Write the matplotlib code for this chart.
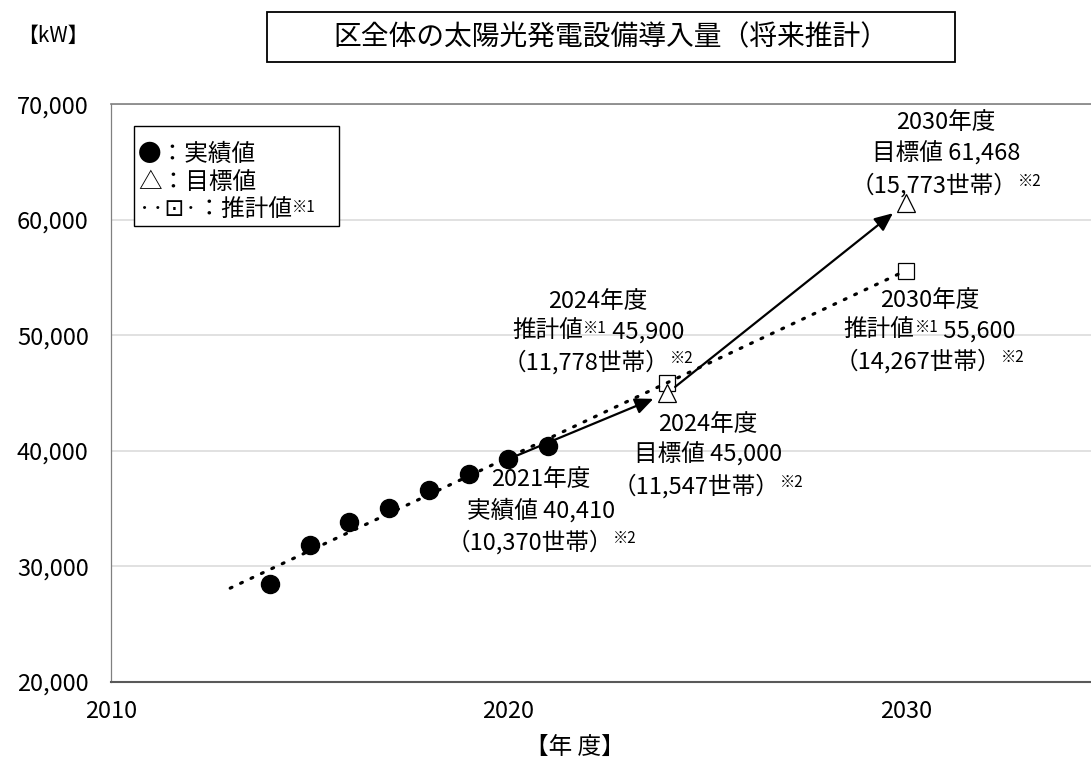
"""区全体の太陽光発電設備導入量（将来推計） — actual, target and estimated capacity."""

import matplotlib
matplotlib.use("Agg")
import matplotlib.pyplot as plt
from matplotlib.patches import Rectangle
from matplotlib.ticker import FuncFormatter
from matplotlib.offsetbox import (TextArea, HPacker, VPacker, AnnotationBbox,
                                  AnchoredOffsetbox, DrawingArea)

plt.rcParams["font.family"] = ["Noto Sans CJK JP", "DejaVu Sans"]

# ── data (kW) ──────────────────────────────────────────────────────────────
actual_years = [2014, 2015, 2016, 2017, 2018, 2019, 2020, 2021]
actual_kw = [28430, 31840, 33850, 35060, 36600, 37980, 39280, 40410]

target_years = [2024, 2030]
target_kw = [45000, 61468]

estimate_years = [2024, 2030]
estimate_kw = [45900, 55600]

trend_years = [2013, 2024, 2030]
trend_kw = [28100, 45900, 55600]

x_ticks = [2010, 2020, 2030]
y_ticks = [20000, 30000, 40000, 50000, 60000, 70000]

TITLE = "区全体の太陽光発電設備導入量（将来推計）"
BIG = 17
SUP = 11


def text_block(lines):
    """Centered multi-line label; each line is a list of (text, is_superscript)."""
    rows = []
    for segs in lines:
        parts = [TextArea(t, textprops=dict(fontsize=SUP if sup else BIG, color="black"))
                 for t, sup in segs]
        rows.append(HPacker(children=parts, align="top", pad=0, sep=0))
    return VPacker(children=rows, align="center", pad=0, sep=5)


fig = plt.figure(figsize=(10.91, 7.58), dpi=100)
fig.patch.set_facecolor("white")
ax = fig.add_axes([0.1017, 0.1007, 0.9109, 0.7617])

ax.set_xlim(2010, 2035)
ax.set_ylim(20000, 70000)
ax.set_xticks(x_ticks)
ax.set_yticks(y_ticks)
ax.yaxis.set_major_formatter(FuncFormatter(lambda v, _: f"{v:,.0f}"))
ax.tick_params(axis="both", length=0, labelsize=BIG)
ax.tick_params(axis="y", pad=16)
ax.tick_params(axis="x", pad=13)
ax.grid(axis="y", color="#d9d9d9", linewidth=1.1)
ax.set_axisbelow(True)
ax.spines["left"].set_color("#808080")
ax.spines["left"].set_linewidth(0.9)
ax.spines["bottom"].set_color("#595959")
ax.spines["bottom"].set_linewidth(1.5)
ax.spines["top"].set_color("#808080")
ax.spines["top"].set_linewidth(1.2)
ax.spines["right"].set_visible(False)

# trend (dotted) + estimate squares
ax.plot(estimate_years, estimate_kw, linestyle="none", marker="s", markersize=12,
        markerfacecolor="white", markeredgecolor="black", markeredgewidth=0.9, zorder=3)
ax.plot(trend_years, trend_kw, color="black", linewidth=2.3,
        linestyle=(0, (0.6, 3.0)), dash_capstyle="round", zorder=4)

# arrows toward the targets
ax.annotate("", xy=(target_years[0], target_kw[0]), xytext=(actual_years[-2], actual_kw[-2]),
            arrowprops=dict(arrowstyle="-|>,head_length=0.5,head_width=0.22", color="black",
                            lw=1.6, mutation_scale=22, shrinkA=0, shrinkB=11), zorder=5)
ax.annotate("", xy=(target_years[1], target_kw[1]), xytext=(target_years[0], target_kw[0]),
            arrowprops=dict(arrowstyle="-|>,head_length=0.5,head_width=0.22", color="black",
                            lw=1.6, mutation_scale=22, shrinkA=7, shrinkB=12), zorder=5)

# actual and target markers
ax.plot(actual_years, actual_kw, linestyle="none", marker="o", markersize=13,
        color="black", zorder=6)
ax.plot(target_years, target_kw, linestyle="none", marker="^", markersize=13,
        markerfacecolor="white", markeredgecolor="black", markeredgewidth=0.9, zorder=6)

# value labels
labels = [
    (actual_years[-1], actual_kw[-1], (-5, -47),
     [[("2021年度", False)], [("実績値 40,410", False)], [("（10,370世帯）", False), ("※2", True)]]),
    (estimate_years[0], estimate_kw[0], (-50, 36),
     [[("2024年度", False)], [("推計値", False), ("※1", True), (" 45,900", False)],
      [("（11,778世帯）", False), ("※2", True)]]),
    (target_years[0], target_kw[0], (29, -45),
     [[("2024年度", False)], [("目標値 45,000", False)], [("（11,547世帯）", False), ("※2", True)]]),
    (target_years[1], target_kw[1], (29, 35),
     [[("2030年度", False)], [("目標値 61,468", False)], [("（15,773世帯）", False), ("※2", True)]]),
    (estimate_years[1], estimate_kw[1], (17, -44),
     [[("2030年度", False)], [("推計値", False), ("※1", True), (" 55,600", False)],
      [("（14,267世帯）", False), ("※2", True)]]),
]
for x, y, off, lines in labels:
    ab = AnnotationBbox(text_block(lines), (x, y), xybox=off, xycoords="data",
                        boxcoords="offset points", frameon=False, box_alignment=(0.5, 0.5),
                        pad=0, zorder=7)
    ax.add_artist(ab)

# legend box (text glyphs, as in the original)
leg_rows = [
    DrawingArea(1, 5.9),
    HPacker(children=[TextArea("●：実績値", textprops=dict(fontsize=BIG))], pad=0, sep=0),
    HPacker(children=[TextArea("△：目標値", textprops=dict(fontsize=BIG))], pad=0, sep=0),
    HPacker(children=[TextArea("··⊡·：推計値", textprops=dict(fontsize=BIG)),
                      TextArea("※1", textprops=dict(fontsize=SUP)),
                      DrawingArea(14, 1)], align="top", pad=0, sep=0),
]
leg = AnchoredOffsetbox(loc="upper left", child=VPacker(children=leg_rows, align="left", pad=0, sep=3.5),
                        pad=0.28, borderpad=0, frameon=True,
                        bbox_to_anchor=(134 / 1091, 1 - 126 / 758), bbox_transform=fig.transFigure)
leg.patch.set_boxstyle("square,pad=0")
leg.patch.set_edgecolor("black")
leg.patch.set_linewidth(1.0)
ax.add_artist(leg)

# axis labels and title
ax.set_xlabel("【年 度】", fontsize=BIG)
ax.xaxis.set_label_coords(0.467, -0.094)
fig.text(17 / 1091, 1 - 36 / 758, "【kW】", fontsize=15, ha="left", va="center")
fig.add_artist(Rectangle((267 / 1091, 1 - 62 / 758), 688 / 1091, 50 / 758,
                         transform=fig.transFigure, fill=False, edgecolor="black", linewidth=1.3))
fig.text(611 / 1091, 1 - 37 / 758, TITLE, fontsize=20, ha="center", va="center")

fig.savefig("out.png", dpi=100, facecolor="white")
plt.close(fig)
